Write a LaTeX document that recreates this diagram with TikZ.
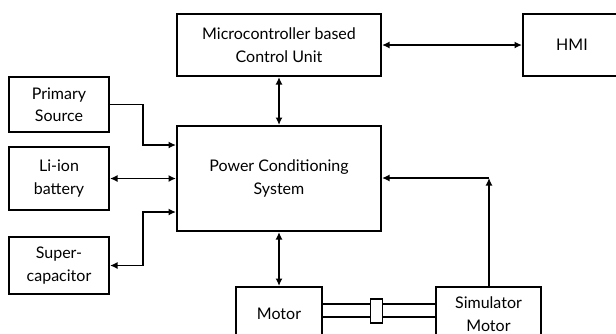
\documentclass[tikz,border=0pt]{standalone}
\usepackage{fontspec}
\setmainfont{Lato}
\usetikzlibrary{arrows.meta,calc}
\begin{document}
\begin{tikzpicture}[x=1pt,y=-1pt,
  box/.style={draw,line width=2pt,inner sep=0pt,align=center,font=\fontsize{16}{22.5}\selectfont},
  conn/.style={line width=1.7pt,{Latex[length=7.5pt,width=7pt]}-{Latex[length=7.5pt,width=7pt]}},
  oneway/.style={line width=1.7pt,-{Latex[length=7.5pt,width=7pt]}},
  shaft/.style={line width=1.7pt}]
\useasboundingbox (0,0) rectangle (616,333);
\clip (0,0) rectangle (616,333);
\node[box,minimum width=204pt,minimum height=62pt] (mcu) at (279,45) {Microcontroller based\\Control Unit};
\node[box,minimum width=98pt,minimum height=62pt] (hmi) at (572,45) {HMI};
\node[box,minimum width=100pt,minimum height=55pt] (ps) at (59,104.5) {Primary\\Source};
\node[box,minimum width=100pt,minimum height=63pt] (li) at (59,178.5) {Li-ion\\battery};
\node[box,minimum width=100pt,minimum height=57pt] (sc) at (59,265.5) {Super-\\capacitor};
\node[box,minimum width=204pt,minimum height=105pt] (pcs) at (279,178.5) {Power Conditioning\\System};
\node[box,minimum width=86pt,minimum height=54pt] (mot) at (279,314) {Motor};
\node[box,minimum width=105pt,minimum height=54pt] (sim) at (488.5,314) {Simulator\\Motor};
\node[draw,line width=1.7pt,minimum width=12pt,minimum height=24pt,inner sep=0pt] (cup) at (376.5,311) {};
\draw[conn] (mcu) -- (hmi);
\draw[conn] (mcu) -- (pcs);
\draw[conn] (pcs) -- (mot);
\draw[oneway] (ps.east) -| (143,145) -- (pcs.west |- 0,145);
\draw[conn] (li.east) -- (pcs.west |- li.east);
\draw[conn] (sc.east) -| (143,212) -- (pcs.west |- 0,212);
\coordinate (corner) at (489,178);
\draw[oneway] (sim.north -| corner) -- (corner);
\draw[oneway] (corner) -- (pcs.east |- corner);
\draw[shaft] (mot.east |- 0,304) -- (cup.west |- 0,304);
\draw[shaft] (mot.east |- 0,317) -- (cup.west |- 0,317);
\draw[shaft] (cup.east |- 0,304) -- (sim.west |- 0,304);
\draw[shaft] (cup.east |- 0,317) -- (sim.west |- 0,317);
\end{tikzpicture}
\end{document}
